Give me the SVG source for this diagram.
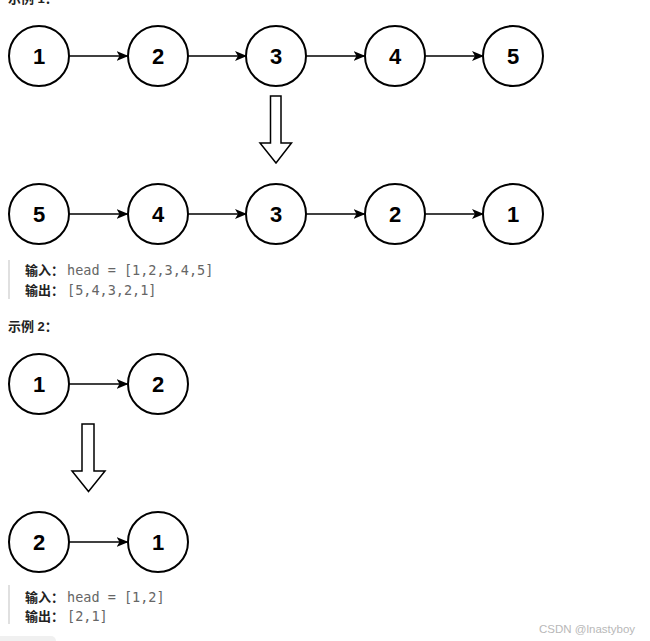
<svg xmlns="http://www.w3.org/2000/svg" width="650" height="641" viewBox="0 0 650 641">
<defs>
<style>
.node circle{fill:#fff;stroke:#000;stroke-width:2}
.node text{font-family:"Liberation Sans",Arial,sans-serif;font-weight:bold;font-size:22px;text-anchor:middle;fill:#000}
.edge{stroke:#000;stroke-width:1.5;fill:none;marker-end:url(#ah)}
.big{fill:#fff;stroke:#000;stroke-width:1.5;stroke-linejoin:miter}
.lbl{font-family:"Liberation Sans","Noto Sans CJK SC",sans-serif;font-weight:bold;font-size:13px;fill:#222}
.code{font-family:"DejaVu Sans Mono","Liberation Mono",monospace;font-size:13.5px;fill:#666}
.bar{fill:#e0e0e0}
</style>
<marker id="ah" viewBox="0 0 12 10" refX="11" refY="5" markerWidth="12" markerHeight="10" markerUnits="userSpaceOnUse" orient="auto">
<path d="M0,0 L12,5 L0,10 L3,5 Z" fill="#000"/>
</marker>
</defs>
<rect width="650" height="641" fill="#fff"/>
<text class="lbl" x="8" y="3">示例 1：</text>

<g id="connectors">
<line class="edge" x1="69" y1="56" x2="127.5" y2="56"/>
<line class="edge" x1="188" y1="56" x2="246" y2="56"/>
<line class="edge" x1="306" y1="56" x2="364.5" y2="56"/>
<line class="edge" x1="425" y1="56" x2="483" y2="56"/>
<line class="edge" x1="69" y1="214" x2="127.5" y2="214"/>
<line class="edge" x1="188" y1="214" x2="246" y2="214"/>
<line class="edge" x1="306" y1="214" x2="364.5" y2="214"/>
<line class="edge" x1="425" y1="214" x2="483" y2="214"/>
<line class="edge" x1="69" y1="384" x2="127.5" y2="384"/>
<line class="edge" x1="69" y1="542" x2="127.5" y2="542"/>
</g>

<g id="r1n1" class="node"><circle cx="39" cy="56" r="30"/><text x="39" y="64">1</text></g>
<g id="r1n2" class="node"><circle cx="158" cy="56" r="30"/><text x="158" y="64">2</text></g>
<g id="r1n3" class="node"><circle cx="276" cy="56" r="30"/><text x="276" y="64">3</text></g>
<g id="r1n4" class="node"><circle cx="395" cy="56" r="30"/><text x="395" y="64">4</text></g>
<g id="r1n5" class="node"><circle cx="513" cy="56" r="30"/><text x="513" y="64">5</text></g>

<polygon id="bigarrow1" class="big" points="270.5,96 281,96 281,143 291.5,143 276,163 260,143 270.5,143"/>

<g id="r2n5" class="node"><circle cx="39" cy="214" r="30"/><text x="39" y="222">5</text></g>
<g id="r2n4" class="node"><circle cx="158" cy="214" r="30"/><text x="158" y="222">4</text></g>
<g id="r2n3" class="node"><circle cx="276" cy="214" r="30"/><text x="276" y="222">3</text></g>
<g id="r2n2" class="node"><circle cx="395" cy="214" r="30"/><text x="395" y="222">2</text></g>
<g id="r2n1" class="node"><circle cx="513" cy="214" r="30"/><text x="513" y="222">1</text></g>

<rect class="bar" x="8" y="260" width="2" height="39"/>
<text class="lbl" x="25" y="275">输入：</text>
<text class="code" x="67" y="275">head = [1,2,3,4,5]</text>
<text class="lbl" x="25" y="295">输出：</text>
<text class="code" x="67" y="295">[5,4,3,2,1]</text>

<text class="lbl" x="8" y="331">示例 2：</text>

<g id="e2n1" class="node"><circle cx="39" cy="384" r="30"/><text x="39" y="392">1</text></g>
<g id="e2n2" class="node"><circle cx="158" cy="384" r="30"/><text x="158" y="392">2</text></g>

<polygon id="bigarrow2" class="big" points="82,424 94,424 94,471 105,471 88.5,491.5 72,471 82,471"/>

<g id="e2r2n2" class="node"><circle cx="39" cy="542" r="30"/><text x="39" y="550">2</text></g>
<g id="e2r2n1" class="node"><circle cx="158" cy="542" r="30"/><text x="158" y="550">1</text></g>

<rect class="bar" x="8" y="585" width="2" height="39"/>
<text class="lbl" x="25" y="602">输入：</text>
<text class="code" x="67" y="602">head = [1,2]</text>
<text class="lbl" x="25" y="621">输出：</text>
<text class="code" x="67" y="621">[2,1]</text>

<rect x="-6" y="636" width="62" height="12" rx="5" fill="#f0f0f0"/>
<text x="539" y="633" font-family="'Liberation Sans Narrow','Liberation Sans',sans-serif" font-size="11.5" fill="#b8b8b8">CSDN @lnastyboy</text>
</svg>
